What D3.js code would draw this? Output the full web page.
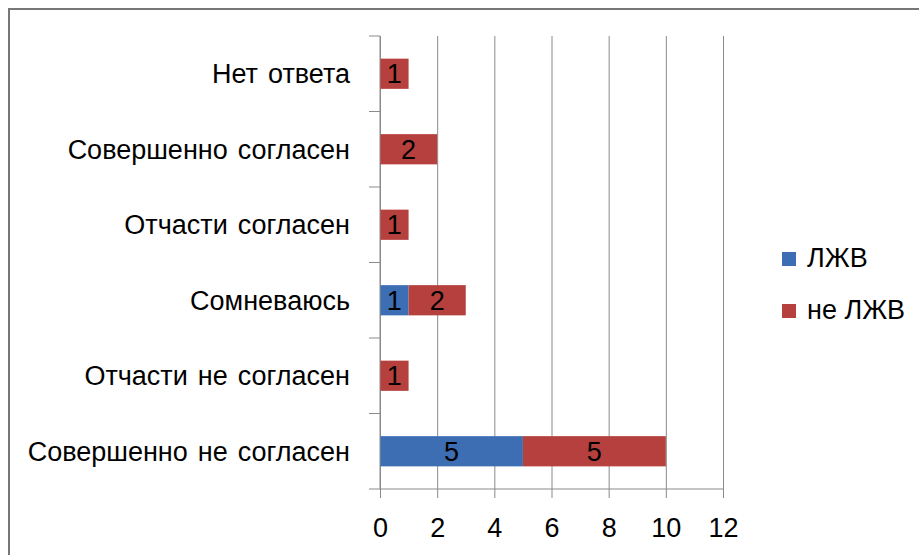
<!DOCTYPE html>
<html>
<head>
<meta charset="utf-8">
<script src="https://cdn.jsdelivr.net/npm/d3@7"></script>
<style>
  body { margin: 0; background: #fff; }
  svg { display: block; font-family: "Liberation Sans", Arial, sans-serif; }
</style>
</head>
<body>
<div id="chart"></div>
<script>

// categories top to bottom
const categories = ["Нет ответа", "Совершенно согласен", "Отчасти согласен", "Сомневаюсь", "Отчасти не согласен", "Совершенно не согласен"];
const seriesNames = ["ЛЖВ", "не ЛЖВ"];
const lzhv = [0, 0, 0, 1, 0, 5];
const neLzhv = [1, 2, 1, 2, 1, 5];
const xTicks = [0, 2, 4, 6, 8, 10, 12];
const colors = ["#3d6eb4", "#b5403d"];

const width = 919, height = 555;
const plotLeft = 380, plotRight = 723, plotTop = 36, plotBottom = 489;

const svg = d3.select("#chart").append("svg")
	.attr("width", width)
	.attr("height", height);

// outer frame (runs off the bottom and right)
svg.append("path")
	.attr("d", "M9," + (height + 5) + " V9 H" + (width + 5))
	.attr("fill", "none")
	.attr("stroke", "#777")
	.attr("stroke-width", 2);

const x = d3.scaleLinear().domain([0, 12]).range([plotLeft, plotRight]);
const y = d3.scaleBand().domain(categories).range([plotTop, plotBottom])
	.paddingInner(0.6).paddingOuter(0.3);

// grid
svg.append("g")
	.attr("transform", "translate(0," + plotBottom + ")")
	.call(d3.axisBottom(x).tickValues(xTicks).tickSize(-(plotBottom - plotTop)).tickFormat(""))
	.call(g => g.select(".domain").remove())
	.selectAll("line").attr("stroke", "#8a8a8a");

// stacked data
const rows = categories.map((c, i) => ({cat: c, a: lzhv[i], b: neLzhv[i]}));
const stack = d3.stack().keys(["a", "b"])(rows);

const layer = svg.selectAll(".layer")
	.data(stack)
	.enter().append("g")
	.attr("fill", (d, i) => colors[i]);

layer.selectAll("rect")
	.data(d => d.filter(p => p[1] - p[0] > 0))
	.enter().append("rect")
	.attr("x", d => x(d[0]))
	.attr("y", d => y(d.data.cat))
	.attr("width", d => x(d[1]) - x(d[0]))
	.attr("height", y.bandwidth());

layer.selectAll("text")
	.data(d => d.filter(p => p[1] - p[0] > 0))
	.enter().append("text")
	.attr("x", d => (x(d[0]) + x(d[1])) / 2)
	.attr("y", d => y(d.data.cat) + y.bandwidth() / 2 + 9.5)
	.attr("text-anchor", "middle")
	.attr("fill", "#000")
	.style("font-size", "27px")
	.text(d => d[1] - d[0]);

// x axis line, ticks and labels
const xa = svg.append("g")
	.attr("transform", "translate(0," + plotBottom + ")")
	.call(d3.axisBottom(x).tickValues(xTicks).tickSizeInner(9).tickSizeOuter(0).tickPadding(20));
xa.select(".domain").remove();
xa.selectAll("line").attr("stroke", "#8a8a8a");
xa.selectAll("text").style("font-size", "27px").attr("fill", "#000")
	.attr("font-family", "Liberation Sans, Arial, sans-serif");
svg.append("line")
	.attr("x1", plotLeft - 11).attr("x2", plotRight)
	.attr("y1", plotBottom).attr("y2", plotBottom)
	.attr("stroke", "#8a8a8a");

// y axis line and category boundary ticks
svg.append("line")
	.attr("x1", plotLeft).attr("x2", plotLeft)
	.attr("y1", plotTop).attr("y2", plotBottom)
	.attr("stroke", "#8a8a8a");
svg.selectAll(".ytick")
	.data(d3.range(categories.length))
	.enter().append("line")
	.attr("x1", plotLeft - 11).attr("x2", plotLeft)
	.attr("y1", i => plotTop + i * y.step())
	.attr("y2", i => plotTop + i * y.step())
	.attr("stroke", "#8a8a8a");

// category labels
svg.selectAll(".cat")
	.data(categories)
	.enter().append("text")
	.attr("x", 350)
	.attr("y", d => y(d) + y.bandwidth() / 2 + 9.5)
	.attr("text-anchor", "end")
	.style("font-size", "27px")
	.style("word-spacing", "2.5px")
	.text(d => d);

// legend
const leg = svg.selectAll(".leg")
	.data(seriesNames)
	.enter().append("g")
	.attr("transform", (d, i) => "translate(782," + (252 + i * 52) + ")");
leg.append("rect")
	.attr("width", 14).attr("height", 14)
	.attr("fill", (d, i) => colors[i]);
leg.append("text")
	.attr("x", 25).attr("y", 15)
	.style("font-size", "27px")
	.text(d => d);

</script>
</body>
</html>
